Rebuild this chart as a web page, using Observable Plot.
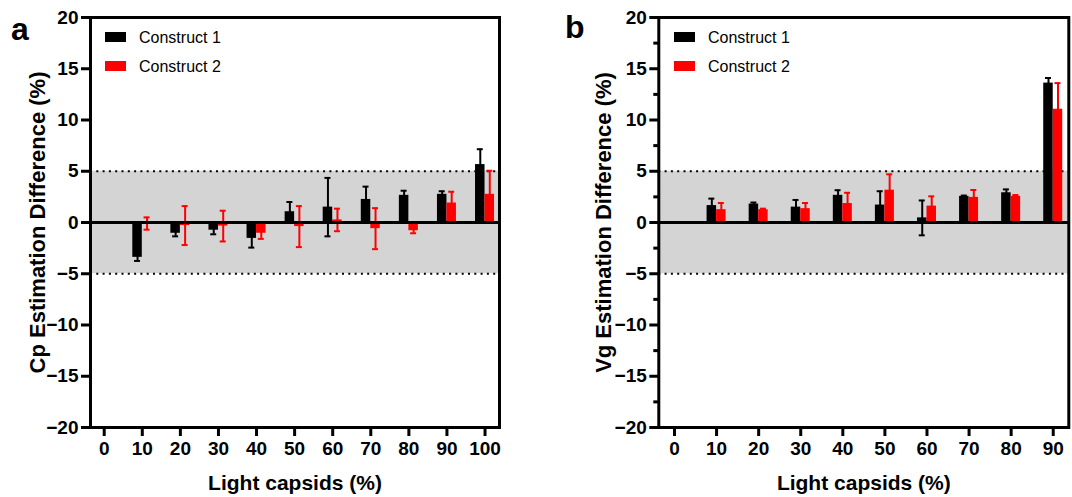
<!DOCTYPE html>
<html>
<head>
<meta charset="utf-8">
<script src="https://cdn.jsdelivr.net/npm/d3@7"></script>
<script src="https://cdn.jsdelivr.net/npm/@observablehq/plot@0.6"></script>
<style>
  html, body { margin: 0; padding: 0; background: #fff; }
  #wrap { position: relative; width: 1072px; height: 497px; overflow: hidden; font-family: "Liberation Sans", Arial, sans-serif; }
  .pane { position: absolute; top: 0; }
  .letter { position: absolute; font-weight: bold; font-size: 32px; line-height: 1; }
  .leg { position: absolute; font-size: 16px; line-height: 16px; white-space: nowrap; }
  .sw { display: inline-block; width: 21px; height: 10px; margin-right: 13px; vertical-align: 1px; }
</style>
</head>
<body>
<div id="wrap"></div>
<script>
// ---------- data ----------
const seriesNames = ["Construct 1", "Construct 2"];

// Panel a: Cp estimation difference
const capsidsA = [0, 10, 20, 30, 40, 50, 60, 70, 80, 90, 100];
const cpC1     = [null, -3.4, -1.05, -0.75, -1.55, 1.05, 1.5, 2.25, 2.65, 2.75, 5.65];
const cpC1Err  = [null, 0.35, 0.3, 0.4, 0.9, 0.95, 2.85, 1.25, 0.45, 0.3, 1.5];
const cpC2     = [null, -0.1, -0.3, -0.35, -1.05, -0.4, 0.25, -0.6, -0.8, 1.9, 2.75];
const cpC2Err  = [null, 0.6, 1.9, 1.5, 0.55, 2.0, 1.1, 2.0, 0.25, 1.1, 2.3];

// Panel b: Vg estimation difference
const capsidsB = [0, 10, 20, 30, 40, 50, 60, 70, 80, 90];
const vgC1     = [null, 1.65, 1.8, 1.5, 2.65, 1.7, 0.45, 2.55, 2.9, 13.6];
const vgC1Err  = [null, 0.68, 0.15, 0.7, 0.5, 1.35, 1.7, 0.08, 0.33, 0.5];
const vgC2     = [null, 1.25, 1.25, 1.35, 1.85, 3.15, 1.6, 2.45, 2.55, 11.05];
const vgC2Err  = [null, 0.65, 0.1, 0.55, 1.05, 1.55, 0.95, 0.72, 0.13, 2.55];

const yTicks = [-20, -15, -10, -5, 0, 5, 10, 15, 20];
const yMinorTicksB = [-17.5, -12.5, -7.5, -2.5, 2.5, 7.5, 12.5, 17.5];
const toleranceBand = [-5, 5];
const xTitle = "Light capsids (%)";

// ---------- drawing ----------
const COLORS = ["#000000", "#ff0000"];
const W = 536, H = 497;

function rowsFor(cats, vals, errs, s) {
  return cats.map((c, i) => ({x: c, v: vals[i], e: errs[i], s}))
             .filter(d => d.v != null);
}

function panel(o) {
  const frameW = W - o.mLeft - o.mRight;
  const unit = (o.xDomain[1] - o.xDomain[0]) / frameW; // data units per px
  const bw = 9.5 * unit, cap = 3 * unit;
  const r1 = rowsFor(o.cats, o.c1, o.c1e, 0);
  const r2 = rowsFor(o.cats, o.c2, o.c2e, 1);
  const center = d => d.s === 0 ? d.x - bw / 2 : d.x + bw / 2;
  const marks = [
    Plot.rect([toleranceBand], {y1: d => d[0], y2: d => d[1], fill: "#d4d4d4"}),
    Plot.ruleY(toleranceBand, {stroke: "#000", strokeWidth: 2, strokeDasharray: "2 4.3"}),
  ];
  [r1, r2].forEach((rows, k) => {
    marks.push(
      Plot.ruleX(rows, {x: center, y1: d => d.v - d.e, y2: d => d.v + d.e, stroke: COLORS[k], strokeWidth: 2}),
      Plot.ruleY(rows, {y: d => d.v + d.e, x1: d => center(d) - cap, x2: d => center(d) + cap, stroke: COLORS[k], strokeWidth: 2}),
      Plot.ruleY(rows, {y: d => d.v - d.e, x1: d => center(d) - cap, x2: d => center(d) + cap, stroke: COLORS[k], strokeWidth: 2}),
      Plot.rect(rows, {
        x1: d => k === 0 ? d.x - bw : d.x,
        x2: d => k === 0 ? d.x : d.x + bw,
        y1: 0, y2: "v", fill: COLORS[k]
      })
    );
  });
  marks.push(
    Plot.ruleY([0], {stroke: "#000", strokeWidth: 3}),
    Plot.frame({stroke: "#000", strokeWidth: 3}),
    Plot.axisY(yTicks, {tickSize: 9, tickPadding: 3, strokeWidth: 3, label: null, fontSize: 19, fontWeight: "bold", fill: "#000"}),
    Plot.axisX(o.cats, {tickSize: 9, tickPadding: 5, strokeWidth: 3, label: null, fontSize: 19, fontWeight: "bold", fill: "#000", tickFormat: d => String(d)}),
    Plot.text([o.yTitle], {text: d => d, frameAnchor: "left", textAnchor: "middle", lineAnchor: "middle", rotate: -90, dx: o.yTitleDx, fontSize: 22, fontWeight: "bold", fill: "#000"}),
    Plot.text([xTitle], {text: d => d, frameAnchor: "bottom", textAnchor: "middle", lineAnchor: "middle", dy: 56, fontSize: 21, fontWeight: "bold", fill: "#000"})
  );
  if (o.minor) {
    marks.push(Plot.axisY(o.minor, {tickSize: 5, strokeWidth: 3, label: null, tickFormat: () => ""}));
  }
  return Plot.plot({
    width: W, height: H,
    marginLeft: o.mLeft, marginRight: o.mRight, marginTop: 17, marginBottom: 70,
    style: {fontFamily: "'Liberation Sans', Arial, sans-serif", color: "#000", background: "#fff", overflow: "visible"},
    x: {type: "linear", domain: o.xDomain},
    y: {type: "linear", domain: [-20, 20]},
    marks
  });
}

const wrap = document.getElementById("wrap");

const pa = panel({
  cats: capsidsA, c1: cpC1, c1e: cpC1Err, c2: cpC2, c2e: cpC2Err,
  xDomain: [-3.6, 103.8], mLeft: 90, mRight: 37,
  yTitle: "Cp Estimation Difference (%)", yTitleDx: -53
});
const pb = panel({
  cats: capsidsB, c1: vgC1, c1e: vgC1Err, c2: vgC2, c2e: vgC2Err,
  xDomain: [-3.73, 93.7], mLeft: 122.3, mRight: 3.7,
  yTitle: "Vg Estimation Difference (%)", yTitleDx: -55, minor: yMinorTicksB
});

function place(node, left) {
  const d = document.createElement("div");
  d.className = "pane";
  d.style.left = left + "px";
  d.appendChild(node);
  wrap.appendChild(d);
}
place(pa, 0);
place(pb, 536);

function addLetter(t, left, top) {
  const d = document.createElement("div");
  d.className = "letter"; d.textContent = t;
  d.style.left = left + "px"; d.style.top = top + "px";
  wrap.appendChild(d);
}
addLetter("a", 11, 13);
addLetter("b", 565, 11);

function addLegend(left, top) {
  seriesNames.forEach((name, i) => {
    const d = document.createElement("div");
    d.className = "leg";
    d.style.left = left + "px"; d.style.top = (top + i * 28.5) + "px";
    const sw = document.createElement("span");
    sw.className = "sw"; sw.style.background = COLORS[i];
    d.appendChild(sw);
    d.appendChild(document.createTextNode(name));
    wrap.appendChild(d);
  });
}
addLegend(105, 30);
addLegend(674, 30);
</script>
</body>
</html>
